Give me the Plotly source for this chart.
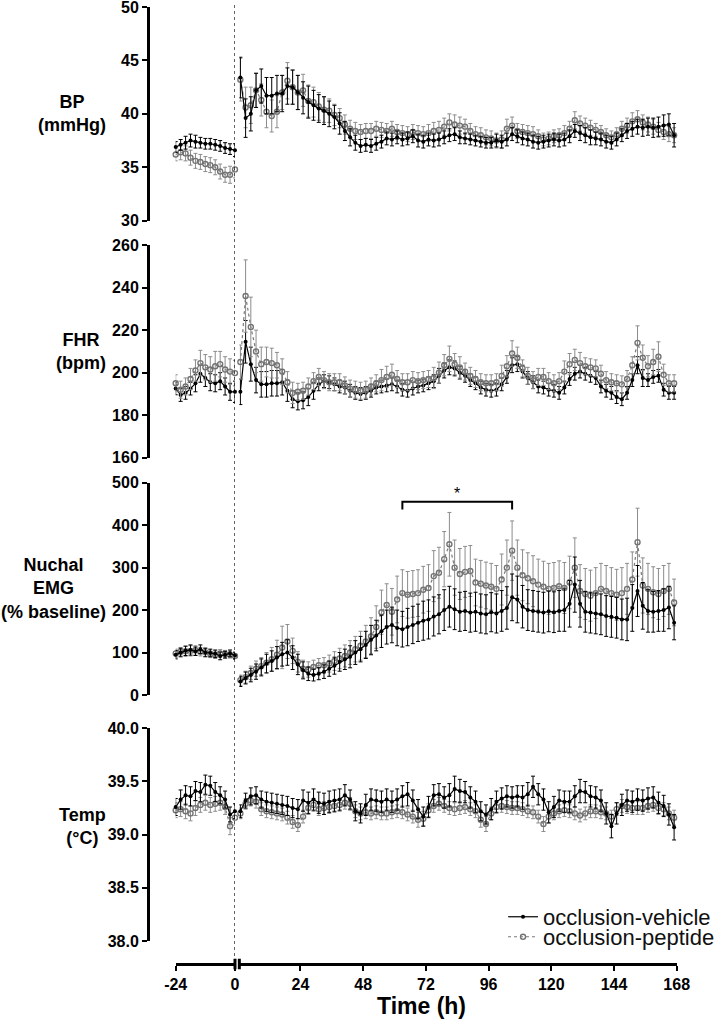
import plotly.graph_objects as go

FONT = "Arial, 'Liberation Sans', Helvetica, sans-serif"

# ---------------- time points ----------------
PRE_T = [-24, -22, -20, -18, -16, -14, -12, -10, -8, -6, -4, -2, 0]
POST_T = list(range(1, 168, 2))   # 1, 3, ..., 167 h

# ---------------- BP (mmHg) ----------------
BP_VEH_PRE = [36.9, 37.1, 37.3, 37.5, 37.4, 37.3, 37.2, 37.2, 37.1, 37.0, 36.8, 36.7, 36.6]
BP_PEP_PRE = [36.2, 36.4, 36.3, 35.9, 35.6, 35.5, 35.3, 35.2, 35.0, 34.6, 34.3, 34.3, 34.8]
BP_VEH_PRE_SEM = [0.5, 0.5, 0.6, 0.6, 0.6, 0.5, 0.5, 0.5, 0.5, 0.5, 0.5, 0.5, 0.6]
BP_PEP_PRE_SEM = [0.6, 0.7, 0.7, 0.7, 0.7, 0.7, 0.7, 0.7, 0.7, 0.7, 0.7, 0.8, 0.8]
BP_VEH = [43.4, 39.6, 40.0, 42.2, 42.6, 41.7, 41.7, 41.9, 41.9, 42.6,
          42.5, 42.0, 41.5, 41.1, 40.8, 40.5, 40.3, 40.0, 39.7, 39.1,
          38.4, 37.8, 37.3, 37.0, 37.1, 37.0, 37.2, 37.4, 37.7, 37.6,
          37.8, 37.6, 37.7, 37.9, 37.5, 37.4, 37.6, 37.5, 37.6, 37.8,
          38.0, 38.1, 37.8, 37.7, 37.6, 37.5, 37.4, 37.3, 37.3, 37.5,
          37.4, 37.6, 38.1, 37.9, 37.7, 37.6, 37.4, 37.3, 37.4, 37.5,
          37.6, 37.5, 37.6, 37.9, 38.4, 38.2, 38.0, 37.8, 37.7, 37.6,
          37.4, 37.3, 37.6, 38.0, 38.4, 38.6, 38.8, 38.7, 38.8, 38.7,
          38.8, 38.9, 39.0, 38.0]
BP_PEP = [43.2, 40.6, 40.8, 42.2, 41.3, 40.2, 39.8, 40.2, 42.0, 43.1,
          42.5, 42.0, 42.2, 41.2, 41.1, 40.7, 40.4, 40.3, 39.9, 39.6,
          39.0, 38.6, 38.4, 38.3, 38.4, 38.4, 38.6, 38.5, 38.4, 38.6,
          38.3, 38.2, 38.1, 38.3, 38.2, 38.1, 38.2, 38.4, 38.5, 38.8,
          39.2, 39.0, 38.9, 38.8, 38.4, 38.1, 38.0, 37.8, 37.7, 37.5,
          37.6, 38.6, 38.9, 38.4, 38.3, 38.2, 38.1, 37.9, 37.6, 37.7,
          37.9, 38.0, 38.2, 38.6, 39.4, 39.1, 38.9, 38.7, 38.5, 38.3,
          38.0, 37.8, 38.1, 38.6, 38.9, 39.3, 39.5, 39.2, 39.0, 38.8,
          38.5, 38.3, 38.1, 38.0]
BP_VEH_SEM = [1.9, 1.8, 1.6, 1.6, 1.6, 1.7, 1.7, 1.7, 1.7, 1.7,
              1.6, 1.6, 1.5, 1.5, 1.4, 1.3, 1.3, 1.2, 1.1, 1.0,
              0.9, 0.8, 0.7, 0.6, 0.6, 0.6, 0.6, 0.6, 0.6, 0.6,
              0.6, 0.6, 0.6, 0.6, 0.6, 0.6, 0.6, 0.6, 0.6, 0.6,
              0.6, 0.6, 0.6, 0.5, 0.5, 0.5, 0.5, 0.5, 0.5, 0.6,
              0.6, 0.6, 0.6, 0.6, 0.6, 0.6, 0.6, 0.6, 0.6, 0.6,
              0.6, 0.6, 0.6, 0.6, 0.6, 0.7, 0.7, 0.7, 0.6, 0.6,
              0.6, 0.6, 0.6, 0.6, 0.7, 0.7, 0.7, 0.8, 0.8, 0.9,
              0.9, 1.0, 1.0, 1.1]
BP_PEP_SEM = [2.0, 1.9, 1.7, 1.6, 1.5, 1.5, 1.5, 1.5, 1.6, 1.7,
              1.6, 1.6, 1.5, 1.5, 1.4, 1.3, 1.2, 1.1, 1.0, 0.9,
              0.9, 0.8, 0.8, 0.7, 0.7, 0.7, 0.7, 0.7, 0.7, 0.7,
              0.7, 0.7, 0.7, 0.7, 0.7, 0.7, 0.8, 0.8, 0.8, 0.8,
              0.8, 0.9, 0.8, 0.7, 0.7, 0.7, 0.7, 0.7, 0.7, 0.7,
              0.8, 0.9, 0.8, 0.7, 0.7, 0.7, 0.7, 0.6, 0.6, 0.6,
              0.6, 0.6, 0.7, 0.7, 0.8, 0.7, 0.7, 0.7, 0.6, 0.6,
              0.6, 0.6, 0.6, 0.7, 0.7, 0.8, 0.8, 0.7, 0.7, 0.7,
              0.7, 0.7, 0.7, 0.7]

# ---------------- FHR (bpm) ----------------
FHR_VEH_PRE = [192.6, 189.5, 190.5, 192.5, 195.0, 199.5, 197.5, 195.5, 195.0, 196.0, 193.5, 191.0, 191.0]
FHR_PEP_PRE = [195.0, 192.0, 193.5, 197.0, 201.0, 204.5, 202.5, 201.5, 203.0, 204.0, 201.5, 200.5, 199.8]
FHR_VEH_PRE_SEM = [3, 3, 3, 3, 4, 4, 4, 4, 4, 4, 4, 4, 5]
FHR_PEP_PRE_SEM = [4, 4, 4, 5, 5, 6, 6, 6, 7, 6, 6, 6, 6]
FHR_VEH = [191, 214.5, 204, 196.5, 194.5, 194.5, 195, 195, 195.5, 191.5,
           187.5, 186.5, 187, 188.5, 191.5, 194.5, 196, 195.5, 194.5, 193.5,
           193, 191.5, 190.5, 190, 190.5, 191.5, 193, 193.5, 194, 194.5,
           193.5, 192, 191.5, 192.5, 193.5, 194, 195, 196, 198.5, 201,
           202.5, 202, 200, 198.5, 196.5, 195, 193, 192, 191.5, 192,
           194.5, 198, 203.5, 204, 200.5, 197.5, 195.5, 193.5, 193, 192,
           191.5, 190.5, 193, 197, 199.5, 200.5, 199.5, 198.5, 197.5, 193.5,
           191.5, 190.5, 188.5, 187.5, 190.5, 196.5, 203.5, 197.5, 196.5, 198,
           198.5, 192, 190.5, 190.5]
FHR_PEP = [205, 236, 221.5, 210, 204, 205, 204.5, 203.5, 200.5, 195.5,
           190.5, 191, 191.5, 193.5, 196, 198, 196.5, 195.5, 195.5, 195.5,
           194, 192.5, 192, 191.5, 192, 193.5, 195, 196.5, 198, 199,
           197, 195.5, 195.5, 196.5, 196, 196.5, 197, 197.5, 200, 203.5,
           206.5, 204, 202.5, 200.5, 198.5, 197, 195.5, 195, 195, 195.5,
           198.5, 203, 209, 207, 202, 198.5, 196.5, 198, 198, 196,
           195, 196, 200.5, 204, 206, 204.5, 203, 202.5, 202, 199.5,
           196.5, 195.5, 195, 194.5, 197, 203.5, 214, 207, 203, 205,
           207.5, 199, 195, 195]
FHR_VEH_SEM = [6, 10, 8, 6, 6, 6, 6, 6, 6, 5,
               4, 4, 4, 4, 4, 3, 3, 3, 3, 3,
               3, 3, 3, 3, 3, 3, 3, 3, 3, 3,
               3, 3, 3, 3, 3, 3, 3, 3, 3.5, 3.5,
               3.5, 3.5, 3, 3, 3, 3, 3, 3, 3, 3,
               3, 3, 3.5, 3.5, 3, 3, 3, 3, 3, 3,
               3, 3, 3, 3, 3, 3, 3, 3, 3, 3,
               3, 3, 3, 3, 3, 3, 4, 4, 3, 3,
               3, 3, 3, 3]
FHR_PEP_SEM = [8, 17, 14, 10, 8, 7, 7, 6, 6, 5,
               5, 4, 4, 4, 4, 4, 4, 4, 4, 4,
               4, 4, 4, 4, 4, 4, 4, 5, 5, 5,
               4, 4, 4, 4, 4, 4, 4, 5, 5, 5,
               6, 5, 5, 4, 4, 4, 4, 4, 4, 4,
               5, 5, 6, 5, 4, 4, 4, 4, 4, 4,
               4, 4, 5, 5, 5, 5, 4, 4, 4, 4,
               4, 4, 4, 4, 4, 4, 8, 6, 5, 6,
               7, 5, 4, 4]

# ---------------- Nuchal EMG (% baseline) ----------------
EMG_VEH_PRE = [95, 100, 104, 106, 103, 108, 100, 99, 97, 92, 95, 98, 93]
EMG_PEP_PRE = [98, 102, 103, 104, 105, 102, 101, 97, 95, 98, 96, 95, 92]
EMG_VEH_PRE_SEM = [10, 10, 11, 12, 10, 10, 10, 9, 9, 9, 8, 8, 8]
EMG_PEP_PRE_SEM = [10, 10, 12, 12, 11, 10, 10, 9, 9, 9, 9, 8, 8]
EMG_VEH = [32, 40, 47, 55, 65, 74, 80, 88, 96, 100,
           88, 72, 58, 50, 47, 50, 55, 62, 69, 78,
           84, 90, 100, 108, 118, 130, 140, 150, 160, 165,
           158, 155, 160, 165, 170, 175, 178, 185, 190, 200,
           208, 202, 196, 198, 194, 196, 192, 190, 195, 192,
           198, 205, 230, 225, 208, 200, 198, 196, 194, 197,
           195, 198, 200, 215, 260, 215, 196, 194, 192, 190,
           186, 184, 182, 178, 178, 205, 245, 210, 198, 196,
           198, 200, 206, 170]
EMG_PEP = [35, 42, 52, 62, 68, 76, 84, 95, 112, 126,
           104, 78, 62, 60, 66, 70, 70, 74, 80, 86,
           92, 100, 108, 116, 126, 138, 160, 195, 212, 196,
           225, 240, 236, 238, 240, 248, 252, 280, 288, 320,
           355, 300, 285, 290, 292, 265, 262, 258, 255, 250,
           272, 300, 340, 300, 282, 275, 268, 260, 255, 250,
           252, 256, 252, 265, 300, 245, 238, 234, 240, 250,
           245, 240, 236, 240, 250, 272, 360, 258, 250, 242,
           238, 245, 250, 218]
EMG_VEH_SEM = [12, 14, 16, 18, 20, 22, 24, 26, 28, 30,
               28, 24, 20, 16, 14, 14, 16, 18, 20, 22,
               24, 26, 28, 30, 32, 34, 36, 38, 40, 42,
               42, 42, 44, 44, 44, 46, 46, 46, 46, 48,
               48, 48, 46, 46, 46, 46, 46, 46, 46, 46,
               48, 50, 55, 55, 50, 48, 48, 48, 48, 48,
               48, 48, 50, 55, 65, 55, 48, 48, 48, 48,
               48, 48, 48, 48, 50, 55, 60, 55, 50, 48,
               48, 50, 50, 40]
EMG_PEP_SEM = [12, 14, 16, 18, 20, 24, 28, 34, 50, 40,
               30, 24, 20, 18, 16, 16, 18, 20, 22, 24,
               26, 28, 30, 34, 38, 44, 50, 52, 50, 55,
               55, 55, 55, 55, 55, 55, 55, 60, 60, 65,
               75, 65, 60, 60, 60, 55, 55, 55, 55, 55,
               60, 65, 70, 65, 60, 60, 60, 60, 60, 60,
               60, 60, 60, 62, 70, 62, 60, 60, 60, 60,
               60, 60, 60, 60, 60, 65, 80, 65, 60, 60,
               60, 60, 60, 55]

# ---------------- Temp (degC) ----------------
TEMP_VEH_PRE = [39.26, 39.33, 39.37, 39.36, 39.41, 39.40, 39.47, 39.46, 39.40, 39.37, 39.33, 39.19, 39.22]
TEMP_PEP_PRE = [39.23, 39.24, 39.22, 39.20, 39.25, 39.28, 39.30, 39.28, 39.29, 39.30, 39.26, 39.08, 39.16]
TEMP_VEH_PRE_SEM = [0.08, 0.09, 0.09, 0.09, 0.09, 0.09, 0.09, 0.09, 0.09, 0.08, 0.08, 0.07, 0.07]
TEMP_PEP_PRE_SEM = [0.07, 0.07, 0.07, 0.07, 0.07, 0.07, 0.07, 0.07, 0.07, 0.07, 0.07, 0.08, 0.07]
TEMP_VEH = [39.22, 39.32, 39.36, 39.37, 39.33, 39.31, 39.30, 39.29, 39.28, 39.27,
            39.25, 39.24, 39.32, 39.30, 39.33, 39.30, 39.29, 39.31, 39.32, 39.33,
            39.37, 39.33, 39.22, 39.20, 39.28, 39.33, 39.32, 39.31, 39.33, 39.31,
            39.33, 39.36, 39.38, 39.32, 39.24, 39.17, 39.26, 39.37, 39.38, 39.35,
            39.37, 39.43, 39.41, 39.40, 39.35, 39.31, 39.22, 39.19, 39.24, 39.31,
            39.34, 39.36, 39.35, 39.36, 39.35, 39.38, 39.45, 39.38, 39.33, 39.21,
            39.26, 39.32, 39.31, 39.31, 39.36, 39.41, 39.40, 39.36, 39.35, 39.32,
            39.20, 39.08, 39.20, 39.28, 39.32, 39.31, 39.33, 39.32, 39.34, 39.35,
            39.30, 39.27, 39.19, 39.07]
TEMP_PEP = [39.20, 39.29, 39.32, 39.31, 39.24, 39.22, 39.21, 39.20, 39.19, 39.16,
            39.12, 39.09, 39.17, 39.25, 39.28, 39.24, 39.25, 39.26, 39.27, 39.28,
            39.30, 39.29, 39.22, 39.20, 39.21, 39.20, 39.21, 39.20, 39.20, 39.21,
            39.22, 39.21, 39.19, 39.17, 39.14, 39.15, 39.23, 39.27, 39.29, 39.27,
            39.25, 39.24, 39.25, 39.26, 39.24, 39.22, 39.14, 39.10, 39.20, 39.26,
            39.27, 39.26, 39.25, 39.25, 39.24, 39.22, 39.21, 39.17, 39.10, 39.17,
            39.20, 39.22, 39.23, 39.22, 39.20, 39.18, 39.20, 39.22, 39.22, 39.21,
            39.20, 39.17, 39.24, 39.27, 39.26, 39.25, 39.25, 39.25, 39.27, 39.28,
            39.25, 39.24, 39.20, 39.16]
TEMP_VEH_SEM = [0.06, 0.07, 0.08, 0.08, 0.08, 0.09, 0.09, 0.09, 0.09, 0.09,
                0.09, 0.09, 0.10, 0.10, 0.10, 0.10, 0.10, 0.10, 0.10, 0.10,
                0.10, 0.09, 0.09, 0.09, 0.10, 0.10, 0.10, 0.10, 0.10, 0.10,
                0.10, 0.10, 0.11, 0.10, 0.09, 0.09, 0.10, 0.10, 0.10, 0.10,
                0.11, 0.12, 0.11, 0.10, 0.10, 0.10, 0.09, 0.09, 0.10, 0.10,
                0.10, 0.10, 0.10, 0.10, 0.11, 0.11, 0.10, 0.10, 0.10, 0.10,
                0.10, 0.10, 0.10, 0.10, 0.10, 0.11, 0.10, 0.10, 0.10, 0.10,
                0.10, 0.11, 0.10, 0.10, 0.10, 0.10, 0.10, 0.10, 0.10, 0.10,
                0.10, 0.10, 0.10, 0.12]
TEMP_PEP_SEM = [0.05, 0.05, 0.05, 0.06, 0.06, 0.06, 0.06, 0.06, 0.06, 0.06,
                0.06, 0.06, 0.06, 0.06, 0.06, 0.06, 0.06, 0.06, 0.06, 0.06,
                0.06, 0.06, 0.06, 0.06, 0.06, 0.06, 0.06, 0.06, 0.06, 0.06,
                0.06, 0.06, 0.06, 0.06, 0.07, 0.07, 0.06, 0.06, 0.06, 0.06,
                0.06, 0.06, 0.06, 0.06, 0.06, 0.06, 0.07, 0.07, 0.06, 0.06,
                0.06, 0.06, 0.06, 0.06, 0.06, 0.06, 0.06, 0.06, 0.07, 0.06,
                0.06, 0.06, 0.06, 0.06, 0.06, 0.06, 0.06, 0.06, 0.06, 0.06,
                0.06, 0.06, 0.06, 0.06, 0.06, 0.06, 0.06, 0.06, 0.06, 0.06,
                0.06, 0.06, 0.06, 0.07]

# ---------------- labels ----------------
SERIES_NAMES = ["occlusion-vehicle", "occlusion-peptide"]
PANEL_TITLES = ["BP<br>(mmHg)", "FHR<br>(bpm)", "Nuchal<br>EMG<br>(% baseline)", "Temp<br>(°C)"]
X_TICKS_PRE = [-24, 0]
X_TICK_LABELS_PRE = ["-24", "0"]
X_TICKS_POST = [24, 48, 72, 96, 120, 144, 168]
X_TITLE = "Time (h)"
SIG_START, SIG_END, SIG_LEVEL, SIG_DROP = 63, 105, 455, 437

# ---------------- sanity check ----------------
_post = dict(BP_VEH=BP_VEH, BP_PEP=BP_PEP, BP_VEH_SEM=BP_VEH_SEM, BP_PEP_SEM=BP_PEP_SEM,
             FHR_VEH=FHR_VEH, FHR_PEP=FHR_PEP, FHR_VEH_SEM=FHR_VEH_SEM, FHR_PEP_SEM=FHR_PEP_SEM,
             EMG_VEH=EMG_VEH, EMG_PEP=EMG_PEP, EMG_VEH_SEM=EMG_VEH_SEM, EMG_PEP_SEM=EMG_PEP_SEM,
             TEMP_VEH=TEMP_VEH, TEMP_PEP=TEMP_PEP, TEMP_VEH_SEM=TEMP_VEH_SEM, TEMP_PEP_SEM=TEMP_PEP_SEM)
bad = [f"{k}:{len(v)}" for k, v in _post.items() if len(v) != len(POST_T)]
if bad:
    raise ValueError("length mismatch " + ", ".join(bad))

panels = [
    dict(y="y", veh=(BP_VEH_PRE, BP_VEH_PRE_SEM, BP_VEH, BP_VEH_SEM),
         pep=(BP_PEP_PRE, BP_PEP_PRE_SEM, BP_PEP, BP_PEP_SEM), order=("pep", "veh"),
         dom=[0.7767, 1.0], rng=[30, 50], ticks=[30, 35, 40, 45, 50], fmt="", ty=0.5),
    dict(y="y2", veh=(FHR_VEH_PRE, FHR_VEH_PRE_SEM, FHR_VEH, FHR_VEH_SEM),
         pep=(FHR_PEP_PRE, FHR_PEP_PRE_SEM, FHR_PEP, FHR_PEP_SEM), order=("veh", "pep"),
         dom=[0.5290, 0.7513], rng=[160, 260], ticks=[160, 180, 200, 220, 240, 260], fmt="", ty=0.5),
    dict(y="y3", veh=(EMG_VEH_PRE, EMG_VEH_PRE_SEM, EMG_VEH, EMG_VEH_SEM),
         pep=(EMG_PEP_PRE, EMG_PEP_PRE_SEM, EMG_PEP, EMG_PEP_SEM), order=("pep", "veh"),
         dom=[0.2811, 0.5029], rng=[0, 500], ticks=[0, 100, 200, 300, 400, 500], fmt="", ty=0.5),
    dict(y="y4", veh=(TEMP_VEH_PRE, TEMP_VEH_PRE_SEM, TEMP_VEH, TEMP_VEH_SEM),
         pep=(TEMP_PEP_PRE, TEMP_PEP_PRE_SEM, TEMP_PEP, TEMP_PEP_SEM), order=("pep", "veh"),
         dom=[0.0240, 0.2463], rng=[38.0, 40.0], ticks=[38.0, 38.5, 39.0, 39.5, 40.0], fmt=".1f", ty=0.538),
]

STYLE = {
    "veh": dict(line=dict(color="black", width=1.2),
                marker=dict(symbol="circle", size=4, color="black"),
                err=dict(color="black", thickness=1, width=2)),
    "pep": dict(line=dict(color="#7a7a7a", width=1.2, dash="dot"),
                marker=dict(symbol="circle-open", size=5, color="#737373", line=dict(width=1.4, color="#737373")),
                err=dict(color="#8c8c8c", thickness=1, width=2)),
}
LEGEND_OF = {"veh": "legend", "pep": "legend2"}
NAME_OF = {"veh": SERIES_NAMES[0], "pep": SERIES_NAMES[1]}

fig = go.Figure()
for pi, p in enumerate(panels):
    for key in p["order"]:
        pre, pre_sem, post, post_sem = p[key]
        st = STYLE[key]
        for xs, ys, es, xa, show in [(PRE_T, pre, pre_sem, "x2", False),
                                     (POST_T, post, post_sem, "x", pi == 0)]:
            fig.add_trace(go.Scatter(
                x=xs, y=ys, mode="lines+markers", xaxis=xa, yaxis=p["y"],
                name=NAME_OF[key], legend=LEGEND_OF[key], showlegend=show,
                line=st["line"], marker=st["marker"], cliponaxis=False,
                error_y=dict(type="data", array=es, visible=True, **st["err"]),
                hoverinfo="skip"))

tickfont = dict(family=FONT, size=16, color="black", weight="bold")
axis_common = dict(showline=True, linewidth=3, linecolor="black", ticks="outside",
                   ticklen=5, tickwidth=2, tickcolor="black", showgrid=False,
                   zeroline=False, tickfont=tickfont, fixedrange=True,
                   automargin=False, ticklabeloverflow="allow")

layout = dict(
    width=719, height=1021,
    margin=dict(l=148, r=29, t=7, b=57, autoexpand=False),
    plot_bgcolor="white", paper_bgcolor="white",
    font=dict(family=FONT, color="black"),
    xaxis=dict(domain=[0.1685, 0.9755], range=[0.6, 168], anchor="free", position=0,
               tickmode="array", tickvals=X_TICKS_POST, **axis_common),
    xaxis2=dict(domain=[0.0511, 0.1605], range=[-24, 0], anchor="free", position=0,
                tickmode="array", tickvals=X_TICKS_PRE, ticktext=X_TICK_LABELS_PRE, **axis_common),
    legend=dict(xref="container", yref="container", x=0.6996, y=0.1019,
                xanchor="left", yanchor="middle", bgcolor="rgba(0,0,0,0)",
                font=dict(family=FONT, size=22, color="#111")),
    legend2=dict(xref="container", yref="container", x=0.6996, y=0.0823,
                 xanchor="left", yanchor="middle", bgcolor="rgba(0,0,0,0)",
                 font=dict(family=FONT, size=22, color="#111")),
    showlegend=True,
)
for pi, p in enumerate(panels):
    name = "yaxis" if pi == 0 else f"yaxis{pi + 1}"
    ax = dict(domain=p["dom"], range=p["rng"], anchor="free", position=0,
              tickmode="array", tickvals=p["ticks"], **axis_common)
    if p["fmt"]:
        ax["tickformat"] = p["fmt"]
    layout[name] = ax
fig.update_layout(**layout)

# panel titles
for p, title in zip(panels, PANEL_TITLES):
    fig.add_annotation(text=title, xref="paper", x=-0.0738, xanchor="right", align="center",
                       yref=f"{p['y']} domain", y=p["ty"], yanchor="middle", showarrow=False,
                       font=dict(family=FONT, size=18, color="black", weight="bold"))

# x-axis title
fig.add_annotation(text=X_TITLE, xref="paper", x=0.505, xanchor="center",
                   yref="paper", y=-0.0439, yanchor="middle", showarrow=False,
                   font=dict(family=FONT, size=23, color="black", weight="bold"))

# time-0 reference line
fig.add_shape(type="line", xref="x2", x0=0, x1=0, yref="paper", y0=0.002, y1=1.004,
              line=dict(color="black", width=1.2, dash="dot"))

# axis break marks
for xr, xv in [("x2 domain", 1), ("x domain", 0)]:
    fig.add_shape(type="line", xref=xr, x0=xv, x1=xv, yref="paper", y0=-0.0055, y1=0.0055,
                  line=dict(color="black", width=3))

# significance bracket in EMG panel
fig.add_shape(type="path", xref="x", yref="y3",
              path=f"M {SIG_START},{SIG_DROP} L {SIG_START},{SIG_LEVEL} L {SIG_END},{SIG_LEVEL} L {SIG_END},{SIG_DROP}",
              line=dict(color="black", width=2))
fig.add_annotation(text="*", xref="x", yref="y3", x=(SIG_START + SIG_END) / 2, y=SIG_LEVEL,
                   yanchor="bottom", showarrow=False, yshift=-2,
                   font=dict(family=FONT, size=16, color="black"))

# remove the default 8px page margin so the 719x1021 figure fills the window exactly
fig.write_html("out.html", config={"displayModeBar": False},
               post_script="document.body.style.margin='0';")
